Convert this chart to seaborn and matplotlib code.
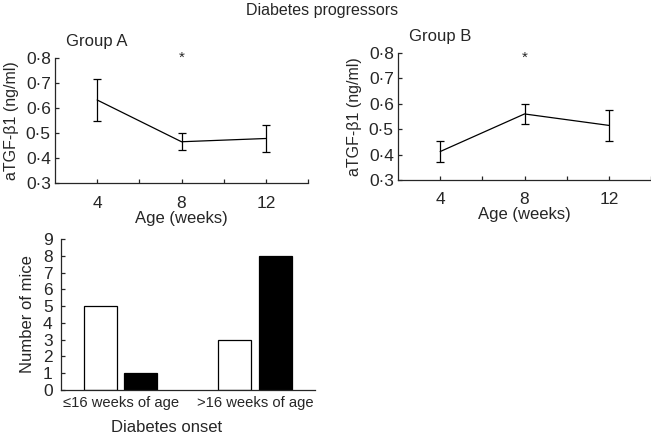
import matplotlib
matplotlib.use("Agg")
import matplotlib.pyplot as plt
import seaborn as sns
import pandas as pd
import numpy as np

# Datos
semanas = [4, 8, 12]
grupo_a_media = [0.632, 0.465, 0.478]
grupo_a_err = [0.083, 0.035, 0.053]
grupo_b_media = [0.412, 0.560, 0.515]
grupo_b_err = [0.040, 0.040, 0.062]

y_ticks = [0.3, 0.4, 0.5, 0.6, 0.7, 0.8]
y_tick_labels = ["0·3", "0·4", "0·5", "0·6", "0·7", "0·8"]
x_ticks = [4, 6, 8, 10, 12, 14]
x_tick_labels = ["4", "", "8", "", "12", ""]

onset_cats = ["≤16 weeks of age", ">16 weeks of age"]
grupos = ["Group A", "Group B"]
ratones_a = [5, 3]
ratones_b = [1, 8]

sns.set_style("ticks")
plt.rcParams['font.family'] = ['Liberation Sans', 'DejaVu Sans']
plt.rcParams['axes.linewidth'] = 0.9
plt.rcParams['xtick.direction'] = 'in'
plt.rcParams['ytick.direction'] = 'in'

W, H = 651, 436
fig = plt.figure(figsize=(W / 100, H / 100), dpi=100, facecolor='white')


def px_axes(x0, y0, x1, y1):
    # caja en pixeles (izq, arriba, der, abajo)
    return fig.add_axes([x0 / W, 1 - y1 / H, (x1 - x0) / W, (y1 - y0) / H])


def panel_linea(ax, media, err, titulo, y_star):
    df = pd.DataFrame({'semana': semanas, 'valor': media})
    sns.lineplot(data=df, x='semana', y='valor', color='black', lw=0.9, ax=ax)
    ax.errorbar(semanas, media, yerr=err, fmt='none', ecolor='black',
                elinewidth=0.9, capsize=3, capthick=0.9)
    ax.set_xlim(2, 14)
    ax.set_ylim(0.3, 0.8)
    ax.set_xticks(x_ticks)
    ax.set_xticklabels(x_tick_labels, fontsize=12.5)
    ax.set_yticks(y_ticks)
    ax.set_yticklabels(y_tick_labels, fontsize=12.5)
    ax.tick_params(axis='x', length=3, width=0.9, pad=9)
    ax.tick_params(axis='y', length=3, width=0.9, pad=3)
    ax.set_xlabel('Age (weeks)', fontsize=12, labelpad=0)
    ax.set_ylabel('aTGF-β1 (ng/ml)', fontsize=11.5, labelpad=5)
    ax.text(8, y_star, '*', ha='center', va='center', fontsize=11)
    ax.text(0.045, 1.13, titulo, transform=ax.transAxes, fontsize=12,
            ha='left', va='center')
    sns.despine(ax=ax)
    ax.spines['left'].set_bounds(0.3, 0.8)
    for sp in ax.spines.values():
        sp.set_clip_on(False)


ax1 = px_axes(55, 58, 308, 183)
panel_linea(ax1, grupo_a_media, grupo_a_err, 'Group A', 0.80)

ax2 = px_axes(398, 53, 651, 180)
panel_linea(ax2, grupo_b_media, grupo_b_err, 'Group B', 0.78)

# Panel de barras
df_bar = pd.DataFrame({
    'onset': onset_cats * 2,
    'grupo': [grupos[0]] * 2 + [grupos[1]] * 2,
    'n': ratones_a + ratones_b,
})
ax3 = px_axes(61, 239, 315, 390)
sns.barplot(data=df_bar, x='onset', y='n', hue='grupo', order=onset_cats,
            hue_order=grupos, palette=['white', 'black'], edgecolor='black',
            linewidth=0.9, width=0.6, gap=0.18, legend=False, ax=ax3)
ax3.set_xlim(-0.446, 1.448)
ax3.set_ylim(0, 9)
ax3.set_yticks(range(0, 10))
ax3.tick_params(axis='y', length=3, width=0.9, pad=6, labelsize=12.5)
ax3.tick_params(axis='x', length=0, pad=4, labelsize=10.6)
ax3.set_xlabel('Diabetes onset', fontsize=12, va='top')
ax3.xaxis.set_label_coords(0.416, -0.2)
ax3.set_ylabel('Number of mice', fontsize=12, labelpad=6)
sns.despine(ax=ax3)

fig.text(322 / W, 1 - 10 / H, 'Diabetes progressors', ha='center', va='center',
         fontsize=11.5)

fig.savefig('out.png', dpi=100, facecolor='white')
